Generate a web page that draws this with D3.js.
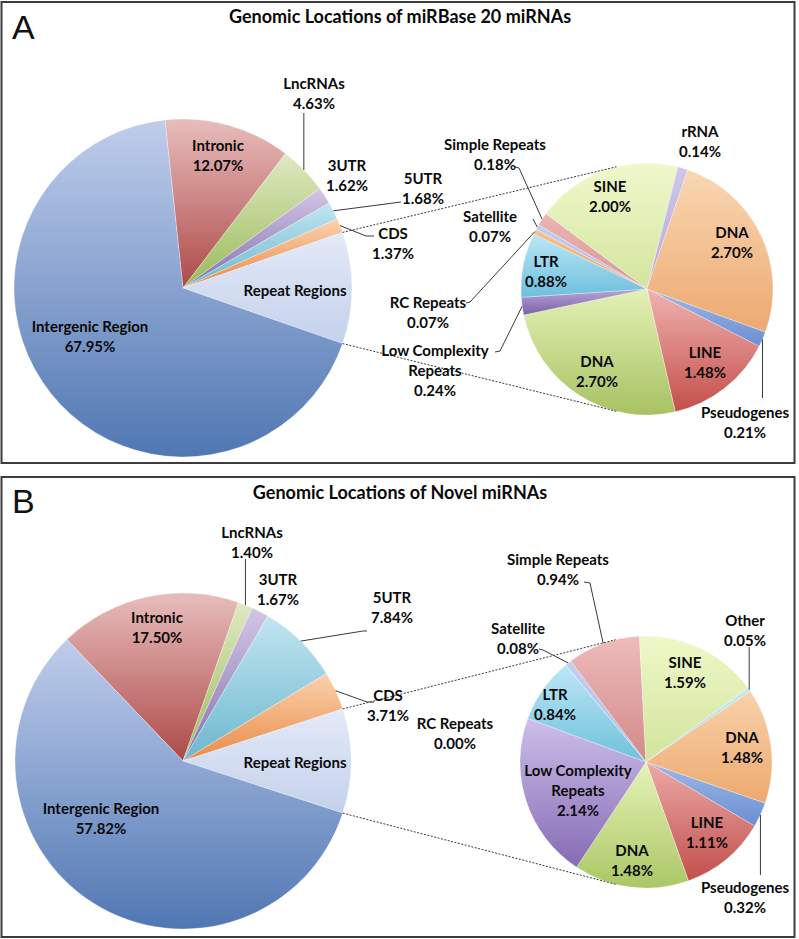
<!DOCTYPE html>
<html><head><meta charset="utf-8">
<script src="https://cdn.jsdelivr.net/npm/d3@7/dist/d3.min.js"></script>
<style>body{margin:0;background:#fff}svg{display:block}</style>
</head><body>
<script>
// ---------------- DATA ----------------
const mainCategoriesA = ["Intronic","LncRNAs","3UTR","5UTR","CDS","Repeat Regions","Intergenic Region"];
const mainValuesA     = [12.07, 4.63, 1.62, 1.68, 1.37, null, 67.95];
const subCategoriesA  = ["Pseudogenes","LINE","DNA","Low Complexity|Repeats","LTR","RC Repeats","Satellite","Simple Repeats","SINE","rRNA","DNA"];
const subValuesA      = [0.21, 1.48, 2.70, 0.24, 0.88, 0.07, 0.07, 0.18, 2.00, 0.14, 2.70];

const mainCategoriesB = ["Intronic","LncRNAs","3UTR","5UTR","CDS","Repeat Regions","Intergenic Region"];
const mainValuesB     = [17.50, 1.40, 1.67, 7.84, 3.71, null, 57.82];
const subCategoriesB  = ["Pseudogenes","LINE","DNA","Low Complexity|Repeats","LTR","RC Repeats","Satellite","Simple Repeats","SINE","Other","DNA"];
const subValuesB      = [0.32, 1.11, 1.48, 2.14, 0.84, 0.00, 0.08, 0.94, 1.59, 0.05, 1.48];

const titles = ["Genomic Locations of miRBase 20 miRNAs", "Genomic Locations of Novel miRNAs"];
const panelLetters = ["A","B"];

// ---------------- STYLES ----------------
const mainColors = [["#e8bdbc","#ad4a48"],["#dfe9c2","#9aba5a"],["#d2c6e5","#8570ad"],["#c2e5f0","#6cb7cf"],
                    ["#fbd2b0","#e88b44"],["#e3eaf8","#c4d1ec"],["#bfcdeb","#5077b3"]];
const subColorsA = [["#9db9e7","#6a8ed2"],["#efb3b1","#c44e4a"],["#e4f1b6","#a7c262"],["#b8a6d9","#7b60a6"],
                    ["#bce7f5","#6dbfdd"],["#f7c292","#ef9f5e"],["#bfcff1","#a7bde8"],["#ebb4b4","#da9694"],
                    ["#f0f8cc","#d3e59e"],["#cec6ea","#b8addd"],["#f9d7b3","#eda970"]];
const subColorsB = [["#9db9e7","#6a8ed2"],["#ecaaa8","#c24f4b"],["#e6f3b8","#aac765"],["#cdbfea","#866bb5"],
                    ["#bce7f5","#70c0dd"],["#f7c292","#ef9f5e"],["#c4cff1","#abb9ea"],["#eebbbb","#d28a88"],
                    ["#eef8c8","#d2e49c"],["#c2e7f3","#a6dbee"],["#f8d2ab","#eda96e"]];

const FONT = "Lato, 'Open Sans', sans-serif";
const LABEL_SIZE = 15;

// ---------------- LAYOUT ----------------
const panels = [
  { mainCats: mainCategoriesA, mainVals: mainValuesA, subCats: subCategoriesA, subVals: subValuesA, subColors: subColorsA,
    box: [1.5, 2, 793, 461], titleY: 17, letterY: 39,
    main: {cx: 183, cy: 288, r: 169}, sub: {cx: 647, cy: 289, r: 126, start: 110},
    mainLabels: [[218,146],[314,84],[347,166],[423,179],[393,234],[295,291],[90,327]],
    subLabels: [[745,413],[705,353],[597,362],[435,351],[546,262],[428,303],[490,217],[495,145],[610,187],[700,132],[732,233]],
    mainLeaders: {1: [["v",113]], 3: [[401,202]], 4: [[366,236],[374,236]]},
    subLeaders: {0: [["v",398]], 3: [[500,351],[495,352]], 5: [[470,302],[466,303]], 6: [[533,219]], 7: [[519,168],[515,167]]}
  },
  { mainCats: mainCategoriesB, mainVals: mainValuesB, subCats: subCategoriesB, subVals: subValuesB, subColors: subColorsB,
    box: [1.5, 477, 793, 460], titleY: 493, letterY: 513,
    main: {cx: 183, cy: 761, r: 168}, sub: {cx: 646, cy: 762, r: 126, start: 109},
    mainLabels: [[157,618],[252,533],[278,580],[392,598],[388,696],[295,763],[101,809]],
    subLabels: [[745,888],[707,823],[632,851],[578,771],[555,695],[455,724],[518,629],[558,560],[685,663],[745,621],[742,738]],
    mainLeaders: {1: [["v",559]], 3: [[363,631],[367,631]], 4: [[367,702],[374,702]]},
    subLeaders: {0: [["v",875]], 6: [[543,650],[539,649]], 7: [[590,583],[584,582]], 9: [["v",647]]}
  }
];

const svg = d3.select("body").append("svg").attr("width", 799).attr("height", 939);
svg.append("rect").attr("width", 799).attr("height", 939).attr("fill", "#fff");
const defs = svg.append("defs");
const fmt = d3.format(".2f");
const rad = d => d * Math.PI / 180;
const pt = (c, a, r) => [c.cx + r * Math.sin(a), c.cy - r * Math.cos(a)];

function grad(id, cols) {
  const g = defs.append("linearGradient").attr("id", id).attr("x1", 0).attr("y1", 0).attr("x2", 0).attr("y2", 1);
  g.append("stop").attr("offset", "0%").attr("stop-color", cols[0]);
  g.append("stop").attr("offset", "100%").attr("stop-color", cols[1]);
  return `url(#${id})`;
}

function drawLabel(g, x, y, lines) {
  lines.forEach((ln, i) => {
    g.append("text").attr("x", x).attr("y", y + i * 20).attr("dy", "0.36em")
      .attr("text-anchor", "middle").attr("font-family", FONT).attr("font-weight", 700)
      .attr("font-size", LABEL_SIZE).attr("fill", "#0a0a0a").text(ln);
  });
}

function drawLeader(g, start, pts) {
  const p = [start];
  pts.forEach(q => p.push(q[0] === "v" ? [start[0], q[1]] : q));
  g.append("path").attr("d", d3.line()(p)).attr("fill", "none").attr("stroke", "#3a3a3a").attr("stroke-width", 1);
}

panels.forEach((P, pi) => {
  const g = svg.append("g");
  g.append("rect").attr("x", P.box[0]).attr("y", P.box[1]).attr("width", P.box[2]).attr("height", P.box[3])
    .attr("fill", "none").attr("stroke", "#3c3c3c").attr("stroke-width", 2);
  g.append("text").attr("x", 400).attr("y", P.titleY).attr("dy", "0.36em").attr("text-anchor", "middle")
    .attr("font-family", FONT).attr("font-weight", 700).attr("font-size", 18).attr("fill", "#0a0a0a").text(titles[pi]);
  g.append("text").attr("x", 12).attr("y", P.letterY).attr("font-family", "'Liberation Sans', Arial, sans-serif")
    .attr("font-size", 34).attr("fill", "#111").text(panelLetters[pi]);

  const repeatIdx = P.mainCats.indexOf("Repeat Regions");
  const mainVals = P.mainVals.map((v, i) => i === repeatIdx ? d3.sum(P.subVals) : v);
  const total = d3.sum(mainVals);
  const before = d3.sum(mainVals.slice(0, repeatIdx));
  const startA = rad(90) - (before + mainVals[repeatIdx] / 2) / total * 2 * Math.PI;

  const pieMain = d3.pie().sort(null).value(d => d).startAngle(startA).endAngle(startA + 2 * Math.PI);
  const arcsMain = pieMain(mainVals);
  const arcM = d3.arc().innerRadius(0).outerRadius(P.main.r);
  const gm = g.append("g").attr("transform", `translate(${P.main.cx},${P.main.cy})`);
  gm.selectAll("path").data(arcsMain).join("path").attr("d", arcM)
    .attr("fill", (d, i) => grad(`m${pi}_${i}`, mainColors[i]))
    .attr("stroke", "#ffffff").attr("stroke-opacity", 0.5).attr("stroke-width", 0.6);

  const startS = rad(P.sub.start);
  const pieSub = d3.pie().sort(null).value(d => d).startAngle(startS).endAngle(startS + 2 * Math.PI);
  const arcsSub = pieSub(P.subVals);
  const arcS = d3.arc().innerRadius(0).outerRadius(P.sub.r);
  const gs = g.append("g").attr("transform", `translate(${P.sub.cx},${P.sub.cy})`);
  gs.selectAll("path").data(arcsSub).join("path").attr("d", arcS)
    .attr("fill", (d, i) => grad(`s${pi}_${i}`, P.subColors[i]))
    .attr("stroke", "#ffffff").attr("stroke-opacity", 0.5).attr("stroke-width", 0.6);

  const rep = arcsMain[repeatIdx];
  const c1a = pt(P.main, rep.startAngle, P.main.r), c1b = pt(P.sub, rad(-14), P.sub.r);
  const c2a = pt(P.main, rep.endAngle, P.main.r), c2b = pt(P.sub, rad(194), P.sub.r);
  [[c1a, c1b], [c2a, c2b]].forEach(([a, b]) => {
    g.append("line").attr("x1", a[0]).attr("y1", a[1]).attr("x2", b[0]).attr("y2", b[1])
      .attr("stroke", "#222").attr("stroke-width", 0.9).attr("stroke-dasharray", "2,1.5");
  });

  Object.entries(P.mainLeaders).forEach(([i, pts]) => {
    const d = arcsMain[+i];
    drawLeader(g, pt(P.main, (d.startAngle + d.endAngle) / 2, P.main.r), pts);
  });
  Object.entries(P.subLeaders).forEach(([i, pts]) => {
    const d = arcsSub[+i];
    drawLeader(g, pt(P.sub, (d.startAngle + d.endAngle) / 2, P.sub.r), pts);
  });

  P.mainCats.forEach((c, i) => {
    const lines = c.split("|");
    if (i !== repeatIdx) lines.push(fmt(P.mainVals[i]) + "%");
    drawLabel(g, P.mainLabels[i][0], P.mainLabels[i][1], lines);
  });
  P.subCats.forEach((c, i) => {
    const lines = c.split("|");
    lines.push(fmt(P.subVals[i]) + "%");
    drawLabel(g, P.subLabels[i][0], P.subLabels[i][1], lines);
  });
});
</script>
</body></html>
